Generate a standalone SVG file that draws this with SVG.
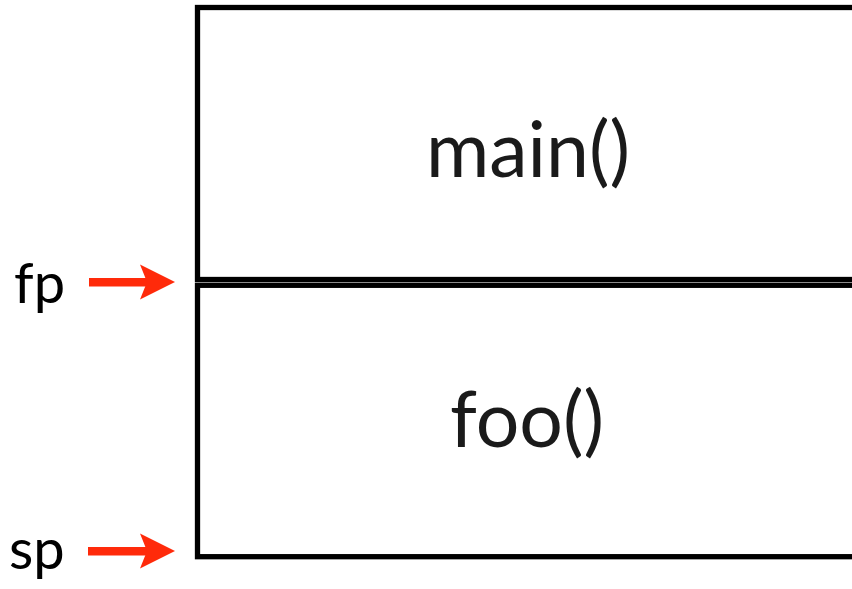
<svg xmlns="http://www.w3.org/2000/svg" width="852" height="589" viewBox="0 0 852 589">
<style>
.frame{fill:none;stroke:#000;stroke-width:5.3}
.big{font-family:Lato,"Open Sans",sans-serif;font-size:77px;fill:#1a1a1a;text-anchor:middle}
.lbl{font-family:Lato,"Open Sans",sans-serif;font-size:56px;fill:#000}
.arr{fill:#ff2a0a}
</style>
<rect width="852" height="589" fill="#fff"/>
<g id="main">
<rect class="frame" x="197.5" y="7.5" width="700" height="272"/>
<text class="big" x="528" y="177">main()</text>
</g>
<g id="foo">
<rect class="frame" x="197.5" y="285.3" width="700" height="271.4"/>
<text class="big" x="527" y="447">foo()</text>
</g>
<g id="fp">
<text class="lbl" x="14" y="303">fp</text>
</g>
<g id="sp">
<text class="lbl" x="9" y="569">sp</text>
</g>
<g id="connectors">
<rect class="arr" x="89" y="278" width="60" height="8.5"/>
<polygon class="arr" points="175,282 140,264.5 147,282 140,299.5"/>
<rect class="arr" x="88" y="547" width="60" height="8.5"/>
<polygon class="arr" points="175,551 140,533.5 147,551 140,568.5"/>
</g>
</svg>
